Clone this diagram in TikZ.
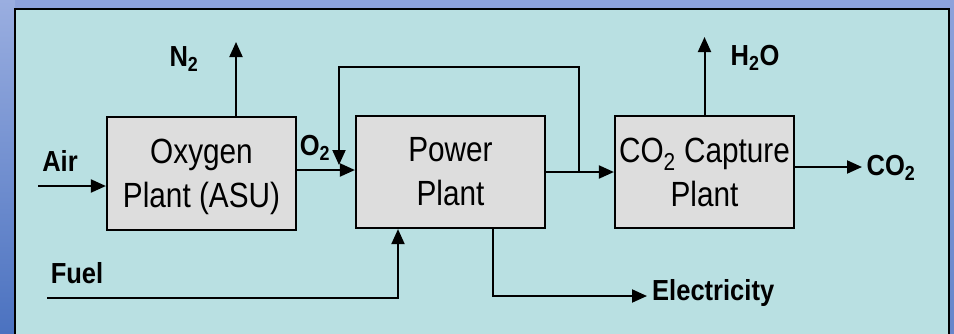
\documentclass[tikz,border=0pt]{standalone}
\usepackage{fontspec}
\setmainfont[FakeStretch=0.85]{Liberation Sans}
\newfontfamily\labfont[FakeStretch=0.88]{Liberation Sans}
\usetikzlibrary{arrows.meta}
\definecolor{outerblue}{HTML}{8DA2DB}
\definecolor{edgetop}{HTML}{9AAEE0}
\definecolor{edgebot}{HTML}{4B72C0}
\definecolor{panelcyan}{HTML}{B9E0E2}
\definecolor{boxgray}{HTML}{DDDDDD}
\tikzset{
  unit box/.style={draw=black, line width=2.2pt, fill=boxgray, inner sep=0pt,
    align=center, font=\fontsize{35}{44}\selectfont},
  flow/.style={line width=2pt, -{Triangle[length=15pt,width=13pt]}},
  lab/.style={inner sep=0pt, font=\labfont\bfseries\fontsize{29}{34}\selectfont}
}
\begin{document}
\begin{tikzpicture}[x=1pt,y=-1pt]
\useasboundingbox (0,0) rectangle (954,333);
% outer background
\fill[outerblue] (0,0) rectangle (954,333);
\shade[top color=edgetop, bottom color=edgebot] (0,0) rectangle (15,333);
\shade[top color=outerblue, bottom color=edgebot!60!outerblue] (950,0) rectangle (954,333);
% panel
\begin{scope}
\clip (0,0) rectangle (954,333);
\draw[line width=2.5pt, fill=panelcyan] (15,9) rectangle (949,345);
\end{scope}
% boxes
\node[unit box, minimum width=189pt, minimum height=113pt] (asu) at (201.5,173.5) {Oxygen\\Plant \smash{(ASU)}};
\node[unit box, minimum width=189pt, minimum height=112pt] (pp) at (450.5,172) {Power\\Plant};
\node[unit box, minimum width=179pt, minimum height=112pt] (cc) at (704.5,172) {CO\textsubscript{2} Capture\\Plant};
% coordinates
\coordinate (airS) at (38,186);
\coordinate (n2T) at (236,42);
\coordinate (o2y) at (300,170);
\coordinate (fb) at (579,172);
\coordinate (fbTop) at (579,67);
\coordinate (fbL) at (339,67);
\coordinate (fbTip) at (339,165);
\coordinate (co2T) at (862,167);
\coordinate (h2oT) at (704.5,37);
\coordinate (fuelS) at (47,298);
\coordinate (fuelX) at (398,298);
\coordinate (elX) at (493,296);
\coordinate (elT) at (647,296);
% connectors
\draw[flow] (airS) -- (asu.west |- airS);
\draw[flow] (asu.north -| n2T) -- (n2T);
\draw[flow] (asu.east |- o2y) -- (pp.west |- o2y);
\draw[flow] (pp.east) -- (cc.west);
\draw[flow] (fb) -- (fbTop) -- (fbL) -- (fbTip);
\draw[flow] (cc.east |- co2T) -- (co2T);
\draw[flow] (cc.north) -- (h2oT);
\draw[flow] (fuelS) -| (pp.south -| fuelX);
\draw[flow] (pp.south -| elX) |- (elT);
% labels
\node[lab, anchor=base] (lair) at (60,171) {Air};
\node[lab, anchor=base] (ln2) at (184,66) {N\textsubscript{2}};
\node[lab, anchor=base] (lo2) at (315,155) {O\textsubscript{2}};
\node[lab, anchor=base] (lco2) at (891,175) {CO\textsubscript{2}};
\node[lab, anchor=base] (lh2o) at (755,65) {H\textsubscript{2}O};
\node[lab, anchor=base] (lfuel) at (77,283) {Fuel};
\node[lab, anchor=base west] (lel) at (652,300) {Electricity};
\end{tikzpicture}
\end{document}
